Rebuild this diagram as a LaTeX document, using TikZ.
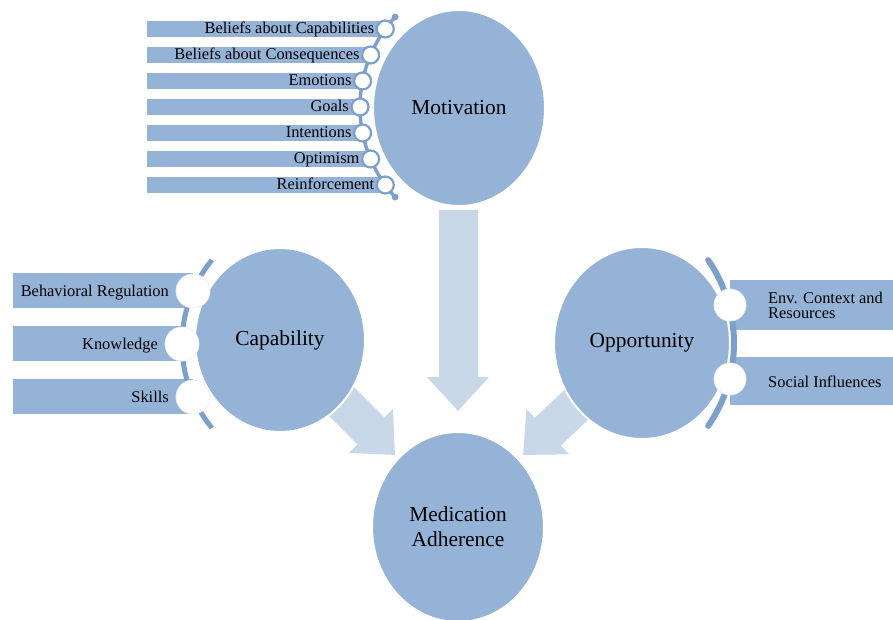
\documentclass[tikz,border=0pt]{standalone}
\usepackage{fontspec}
\setmainfont{Liberation Serif}
\usetikzlibrary{shapes.geometric,arrows.meta,calc}
\pgfdeclarelayer{back}
\pgfsetlayers{back,main}
\definecolor{mainblue}{HTML}{95B3D7}
\definecolor{lightblue}{HTML}{C8D8E9}
\definecolor{arcblue}{HTML}{7C9FCB}
\begin{document}
\begin{tikzpicture}[x=1pt,y=-1pt,
  bigcirc/.style={ellipse, fill=mainblue, draw=white, line width=2pt, inner sep=0pt,
    font=\fontsize{21.4}{25}\selectfont, align=center},
  bar/.style={fill=mainblue},
  barlabel/.style={inner sep=0pt, font=\fontsize{16.4}{15}\selectfont},
  bigarrow/.style={draw=lightblue, line width=39pt, -{Triangle[length=34pt,width=60pt]}},
  motring/.style={circle, fill=white, draw=arcblue, line width=2.2pt, minimum size=17pt, inner sep=0pt},
  whitedot/.style={circle, fill=white, draw=white!80!mainblue, line width=0.8pt, inner sep=0pt},
  arcline/.style={draw=arcblue}
]
\useasboundingbox (0,0) rectangle (893,620);

% main ellipses
\node[bigcirc, minimum width=172pt, minimum height=196pt] (mot) at (459,108) {Motivation};
\node[bigcirc, minimum width=170pt, minimum height=184pt] (cap) at (280,340) {Capability};
\node[bigcirc, minimum width=176pt, minimum height=192pt] (opp) at (642,343) {Opportunity};
\node[bigcirc, minimum width=172pt, minimum height=190pt] (med) at (458,527) {Medication\\Adherence};

\coordinate (tipv) at (458,411);
\coordinate (tipl) at (395,455);
\coordinate (tipr) at (523,455);

\begin{pgfonlayer}{back}
  \fill[white] (0,0) rectangle (893,620);
  % block arrows
  \draw[bigarrow] ($(tipv |- mot.south)+(0,3)$) -- (tipv);
  \draw[bigarrow, line width=38pt] (cap.center) -- (tipl);
  \draw[bigarrow, line width=38pt] (opp.center) -- (tipr);
  % motivation bars
  \foreach \yy/\cx in {29/385.3, 55/370.6, 81/362.6, 107/360, 133/362.6, 159/370.6, 185/385.3}
    \fill[bar] (147,\yy-8) rectangle (\cx,\yy+8);
  % capability bars
  \fill[bar] (13,273) rectangle (193,308);
  \fill[bar] (13,326) rectangle (182,361);
  \fill[bar] (13,379) rectangle (193,414);
  % opportunity bars
  \fill[bar] (730,280) rectangle (893,330);
  \fill[bar] (730,357) rectangle (893,405);
\end{pgfonlayer}

% motivation arc and rings
\draw[arcline, line width=3.4pt] (493,107) ++(137.4:133) arc[start angle=137.4, end angle=222.6, radius=133];
\fill[arcblue] (493,107) ++(137.4:133) circle[radius=3.4];
\fill[arcblue] (493,107) ++(222.6:133) circle[radius=3.4];
\node[motring] (m1) at (385.3,29) {};
\node[motring] (m2) at (370.6,55) {};
\node[motring] (m3) at (362.6,81) {};
\node[motring] (m4) at (360,107) {};
\node[motring] (m5) at (362.6,133) {};
\node[motring] (m6) at (370.6,159) {};
\node[motring] (m7) at (385.3,185) {};
\node[barlabel, anchor=base east] (lm1) at (374.3,34) {Beliefs about Capabilities};
\node[barlabel, anchor=base east] (lm2) at (359.6,60) {Beliefs about Consequences};
\node[barlabel, anchor=base east] (lm3) at (351.6,86) {Emotions};
\node[barlabel, anchor=base east] (lm4) at (349,112) {Goals};
\node[barlabel, anchor=base east] (lm5) at (351.6,138) {Intentions};
\node[barlabel, anchor=base east] (lm6) at (359.6,164) {Optimism};
\node[barlabel, anchor=base east] (lm7) at (374.3,190) {Reinforcement};

% capability arc and circles
\draw[arcline, line width=5pt] (315,344) ++(140.8:133) arc[start angle=140.8, end angle=219.2, radius=133];
\node[whitedot, minimum size=34pt] (c1) at (193,291) {};
\node[whitedot, minimum size=34pt] (c2) at (182,344) {};
\node[whitedot, minimum size=34pt] (c3) at (193,397) {};
\node[barlabel, anchor=base east] (lc1) at (169,296) {Behavioral Regulation};
\node[barlabel, anchor=base east] (lc2) at (158,349) {Knowledge};
\node[barlabel, anchor=base east] (lc3) at (169,402) {Skills};

% opportunity arc and circles
\draw[arcline, line width=6pt, line cap=round] (588,343) ++(-34.6:146) arc[start angle=-34.6, end angle=34.6, radius=146];
\node[whitedot, minimum size=32pt] (o1) at (730,305) {};
\node[whitedot, minimum size=32pt] (o2) at (730,379) {};
\node[barlabel, anchor=west, align=left] (lo1) at (768,305) {Env. Context and\\Resources};
\node[barlabel, anchor=base west] (lo2) at (768,387) {Social Influences};
\end{tikzpicture}
\end{document}
